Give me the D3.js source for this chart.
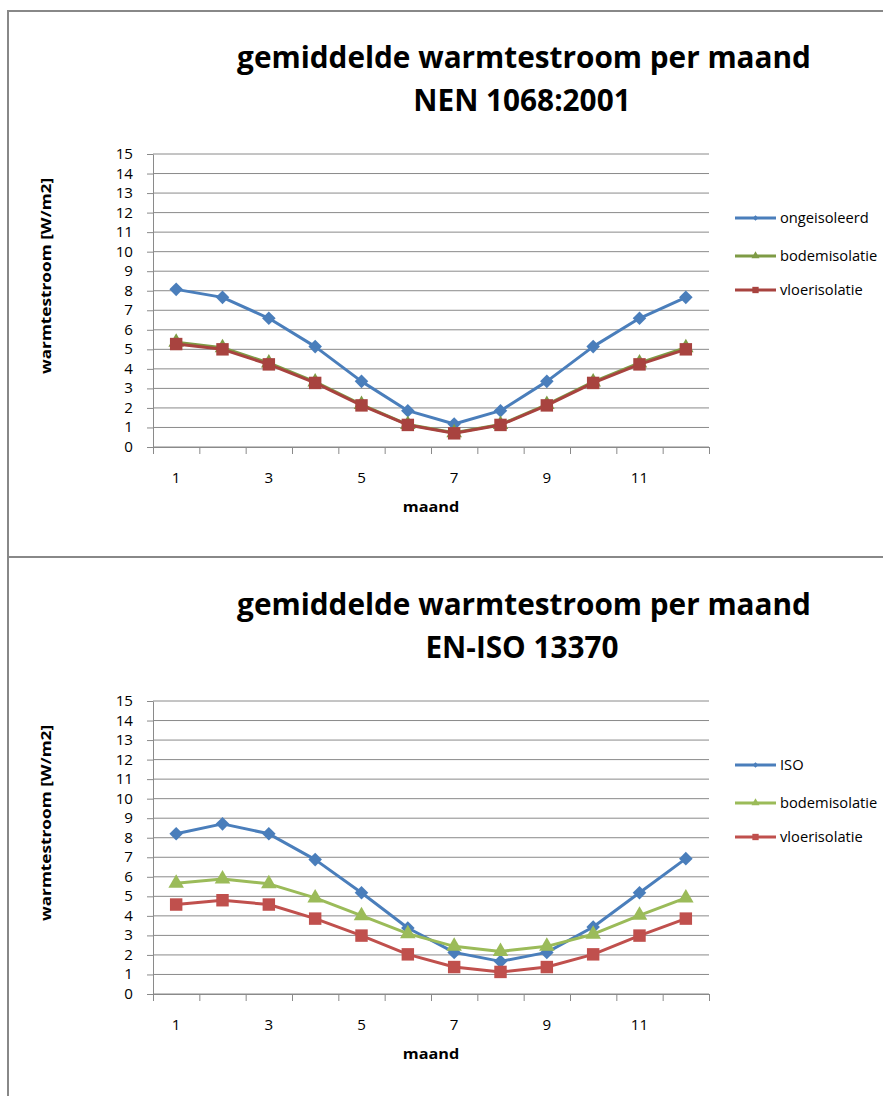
<!DOCTYPE html>
<html>
<head>
<meta charset="utf-8">
<script src="https://cdn.jsdelivr.net/npm/d3@7"></script>
<style>
  html, body { margin: 0; padding: 0; background: #fff; }
  svg { display: block; }
</style>
</head>
<body>
<script>
// Months on the category axis and the labels shown under it
const months = [1, 2, 3, 4, 5, 6, 7, 8, 9, 10, 11, 12];
const monthLabels = [1, 3, 5, 7, 9, 11];
const yTickValues = [0, 1, 2, 3, 4, 5, 6, 7, 8, 9, 10, 11, 12, 13, 14, 15];

// NEN 1068:2001 — mean heat flow per month [W/m2]
const nenOngeisoleerd  = [8.07, 7.66, 6.59, 5.14, 3.36, 1.86, 1.18, 1.86, 3.36, 5.14, 6.59, 7.66];
const nenBodemisolatie = [5.36, 5.08, 4.30, 3.33, 2.17, 1.15, 0.73, 1.15, 2.17, 3.33, 4.30, 5.08];
const nenVloerisolatie = [5.27, 5.00, 4.23, 3.28, 2.13, 1.13, 0.70, 1.13, 2.13, 3.28, 4.23, 5.00];

// EN-ISO 13370 — mean heat flow per month [W/m2]
const isoISO           = [8.20, 8.71, 8.20, 6.88, 5.18, 3.38, 2.13, 1.67, 2.13, 3.43, 5.18, 6.93];
const isoBodemisolatie = [5.67, 5.89, 5.64, 4.92, 4.01, 3.09, 2.44, 2.18, 2.44, 3.06, 4.03, 4.92];
const isoVloerisolatie = [4.58, 4.80, 4.58, 3.86, 2.99, 2.03, 1.38, 1.13, 1.38, 2.03, 2.99, 3.86];

const W = 883, H = 1096;
const FONT = "'Open Sans', 'Liberation Sans', Arial, sans-serif";
const SX = 1.08;          // horizontal stretch applied to labels
const GRID = "#8a8a8a";
const FRAME = "#888888";

const svg = d3.select("body").append("svg")
  .attr("width", W).attr("height", H)
  .attr("viewBox", `0 0 ${W} ${H}`);

// outer frame and separator between the two charts
svg.append("path")
  .attr("d", `M8,${H} V11 H${W}`)
  .attr("fill", "none").attr("stroke", FRAME).attr("stroke-width", 2);
svg.append("line")
  .attr("x1", 8).attr("x2", W).attr("y1", 557).attr("y2", 557)
  .attr("stroke", FRAME).attr("stroke-width", 2);

function label(parent, x, y, str, o = {}) {
  const t = parent.append("text")
    .attr("transform", `translate(${x},${y})${o.rotate ? ` rotate(${o.rotate})` : ""} scale(${o.sx || SX},1)`)
    .attr("font-family", FONT)
    .attr("font-size", o.size || 14)
    .attr("font-weight", o.bold ? "bold" : "normal")
    .attr("text-anchor", o.anchor || "start")
    .attr("fill", o.fill || "#000")
    .text(str);
  if (o.dy) t.attr("dy", o.dy);
  return t;
}

function markerPath(shape, size) {
  if (shape === "triangle") return d3.symbol(d3.symbolTriangle, size)();
  return d3.symbol(d3.symbolSquare, size)();
}
function markerRotate(shape) { return shape === "diamond" ? " rotate(45)" : ""; }

const markerSize = { diamond: 92, triangle: 105, square: 155 };
const legendMarkerSize = { diamond: 16, triangle: 28, square: 40 };

function drawChart(offsetY, cfg) {
  const g = svg.append("g").attr("transform", `translate(0,${offsetY})`);
  const left = 153, right = 709, top = 154, bottom = 447;

  const x = d3.scaleBand().domain(months).range([left, right]).padding(0);
  const xEdge = d3.scaleLinear().domain([0.5, 12.5]).range([left, right]);
  const y = d3.scaleLinear().domain([0, 15]).range([bottom, top]);

  // title (two lines), stretched so the first line spans its box
  const titleG = g.append("g");
  const t1 = titleG.append("text")
    .attr("font-family", FONT).attr("font-size", 31).attr("font-weight", "bold")
    .attr("text-anchor", "middle").text(cfg.title[0]);
  const t2 = titleG.append("text")
    .attr("font-family", FONT).attr("font-size", 31).attr("font-weight", "bold")
    .attr("text-anchor", "middle").text(cfg.title[1]);
  const k = 574 / t1.node().getComputedTextLength();
  t1.attr("transform", `translate(524,68) scale(${k},1)`);
  t2.attr("transform", `translate(522,111) scale(${k},1)`);

  // horizontal gridlines
  g.append("g").selectAll("line").data(yTickValues).join("line")
    .attr("x1", left).attr("x2", right)
    .attr("y1", d => y(d)).attr("y2", d => y(d))
    .attr("stroke", GRID).attr("stroke-width", 1);

  // value axis
  const yAxis = g.append("g").attr("transform", `translate(${left},0)`)
    .call(d3.axisLeft(y).tickValues(yTickValues).tickSize(6).tickSizeOuter(0).tickPadding(14));
  yAxis.select(".domain").attr("stroke", GRID);
  yAxis.selectAll(".tick line").attr("stroke", GRID);
  yAxis.selectAll(".tick text")
    .attr("font-family", FONT).attr("font-size", 14).attr("fill", "#000")
    .attr("transform", `translate(-20,0) scale(${SX},1)`).attr("x", 0);

  // category axis: tick marks at band edges
  const xTicks = g.append("g").attr("transform", `translate(0,${bottom})`)
    .call(d3.axisBottom(xEdge).tickValues(d3.range(0.5, 13, 1)).tickSize(7).tickSizeOuter(0).tickFormat(""));
  xTicks.select(".domain").attr("stroke", GRID);
  xTicks.selectAll(".tick line").attr("stroke", GRID);

  // category labels at band centres
  const xLab = g.append("g").attr("transform", `translate(0,${bottom})`)
    .call(d3.axisBottom(x).tickValues(monthLabels).tickSize(0).tickPadding(26));
  xLab.select(".domain").remove();
  xLab.selectAll(".tick text")
    .attr("font-family", FONT).attr("font-size", 14).attr("fill", "#000")
    .attr("transform", `translate(0,26) scale(${SX},1)`).attr("y", 0);

  // axis titles
  label(g, (left + right) / 2, 512, "maand", { bold: true, size: 15, anchor: "middle" });
  label(g, 51, 276, "warmtestroom [W/m2]", { bold: true, size: 15, anchor: "middle", rotate: -90, sx: 1.15 });

  // series
  const line = d3.line().x((d, i) => x(months[i]) + x.bandwidth() / 2).y(d => y(d));
  cfg.series.forEach(s => {
    const sg = g.append("g");
    sg.append("path").datum(s.values)
      .attr("d", line).attr("fill", "none")
      .attr("stroke", s.color).attr("stroke-width", 3)
      .attr("stroke-linejoin", "round");
    sg.selectAll("path.m").data(s.values).join("path").attr("class", "m")
      .attr("d", markerPath(s.shape, markerSize[s.shape]))
      .attr("transform", (d, i) => `translate(${x(months[i]) + x.bandwidth() / 2},${y(d)})${markerRotate(s.shape)}`)
      .attr("fill", s.color);
  });

  // legend
  const legendY = [218, 256, 290];
  cfg.series.forEach((s, i) => {
    const ly = legendY[i];
    g.append("line").attr("x1", 735).attr("x2", 776).attr("y1", ly).attr("y2", ly)
      .attr("stroke", s.color).attr("stroke-width", 3);
    g.append("path")
      .attr("d", markerPath(s.shape, legendMarkerSize[s.shape]))
      .attr("transform", `translate(755.5,${ly})${markerRotate(s.shape)}`)
      .attr("fill", s.color);
    label(g, 780, ly, s.name, { size: 14, dy: "0.35em", sx: 1.05 });
  });
}

drawChart(0, {
  title: ["gemiddelde warmtestroom per maand", "NEN 1068:2001"],
  series: [
    { name: "ongeisoleerd",  values: nenOngeisoleerd,  color: "#4A7EBB", shape: "diamond" },
    { name: "bodemisolatie", values: nenBodemisolatie, color: "#7E9B45", shape: "triangle" },
    { name: "vloerisolatie", values: nenVloerisolatie, color: "#A8433F", shape: "square" }
  ]
});

drawChart(547, {
  title: ["gemiddelde warmtestroom per maand", "EN-ISO 13370"],
  series: [
    { name: "ISO",           values: isoISO,           color: "#4A7EBB", shape: "diamond" },
    { name: "bodemisolatie", values: isoBodemisolatie, color: "#9BBB59", shape: "triangle" },
    { name: "vloerisolatie", values: isoVloerisolatie, color: "#C0504D", shape: "square" }
  ]
});
</script>
</body>
</html>
